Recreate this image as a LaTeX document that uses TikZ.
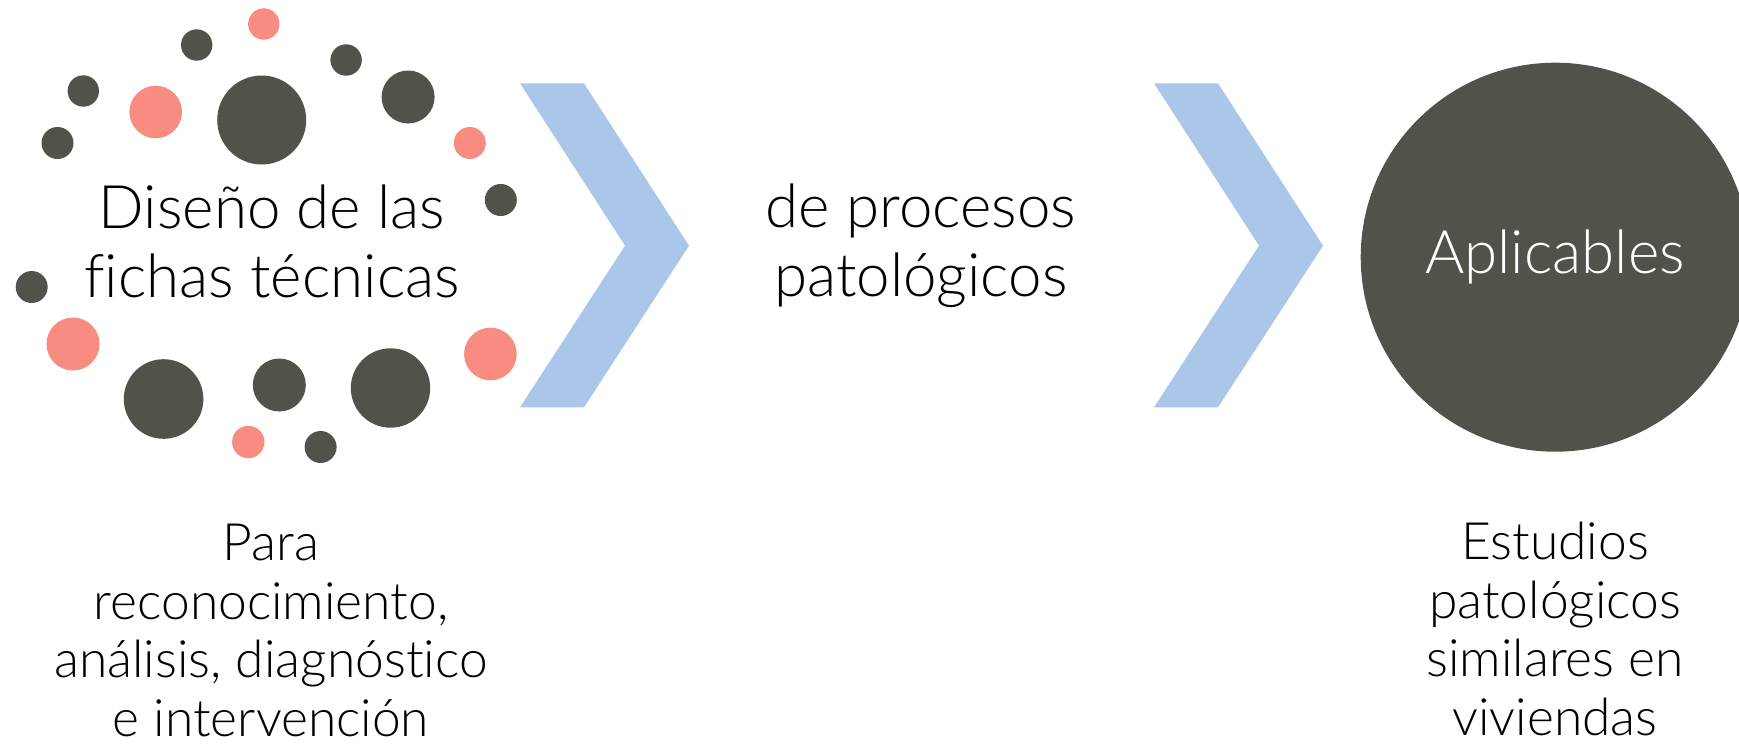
\documentclass[tikz,border=0pt]{standalone}
\usepackage{fontspec}
\IfFontExistsTF{Lato Light}{\setmainfont[Ligatures=NoCommon]{Lato Light}}{\setmainfont[Ligatures=NoCommon]{Lato}}
\definecolor{dotdark}{RGB}{81,82,73}
\definecolor{dotpink}{RGB}{248,140,128}
\definecolor{chevblue}{RGB}{170,199,234}
\begin{document}
\begin{tikzpicture}[x=1pt,y=-1pt,
  dotdk/.style={circle,fill=dotdark,draw=none,inner sep=0pt},
  dotpk/.style={circle,fill=dotpink,draw=none,inner sep=0pt},
  chevron/.style={fill=chevblue,draw=none},
  bigtext/.style={align=center,inner sep=0pt,font=\fontsize{60}{69.5}\selectfont},
  smalltext/.style={align=center,inner sep=0pt,font=\fontsize{51.5}{58.4}\selectfont}]
\useasboundingbox (0,0) rectangle (1739,744);
\clip (0,0) rectangle (1739,744);
% dots
\foreach \n/\x/\y/\r/\s in {
  1/263.8/24/15.7/dotpk, 2/196.7/45/15.7/dotdk, 3/346.1/60/15.7/dotdk,
  4/83.3/91/15.7/dotdk, 5/155.7/112/26.3/dotpk, 6/261.7/120/44.5/dotdk,
  7/408.1/97/26.5/dotdk, 8/57.5/143/16/dotdk, 9/469.8/143/16/dotpk,
  10/500.8/200/16/dotdk, 11/31.7/287/16/dotdk, 12/73/344/26.5/dotpk,
  13/163.6/399/39.8/dotdk, 14/279.3/385/26.5/dotdk, 15/390.5/388/39.7/dotdk,
  16/490.4/354/26.3/dotpk, 17/248.3/442/16.2/dotpk, 18/320.6/447/16/dotdk}
  \node[\s,minimum size=2*\r pt] (d\n) at (\x,\y) {};
% chevrons
\fill[chevron] (520,83.3) -- (584,83.3) -- (689,245.7) -- (584,407.3) -- (520,407.3) -- (625,245.7) -- cycle;
\fill[chevron] (1154,83.3) -- (1218,83.3) -- (1323,245.7) -- (1218,407.3) -- (1154,407.3) -- (1259,245.7) -- cycle;
% big circle
\node[circle,fill=dotdark,draw=none,inner sep=0pt,minimum size=389pt] (goal) at (1555.2,257.2) {};
% texts (base anchor = baseline of the last line)
\node[bigtext,anchor=base] (t1) at (272,297.7) {Diseño de las\\fichas técnicas};
\node[bigtext,anchor=base] (t2) at (921,296.7) {de procesos\\patológicos};
\node[bigtext,anchor=base,text=white] (t3) at (1555,273.3) {Aplicables};
\node[smalltext,anchor=base] (b1) at (271,736) {Para\\reconocimiento,\\análisis, diagnóstico\\e intervención};
\node[smalltext,anchor=base] (b2) at (1555,735) {Estudios\\patológicos\\similares en\\viviendas};
\end{tikzpicture}
\end{document}
